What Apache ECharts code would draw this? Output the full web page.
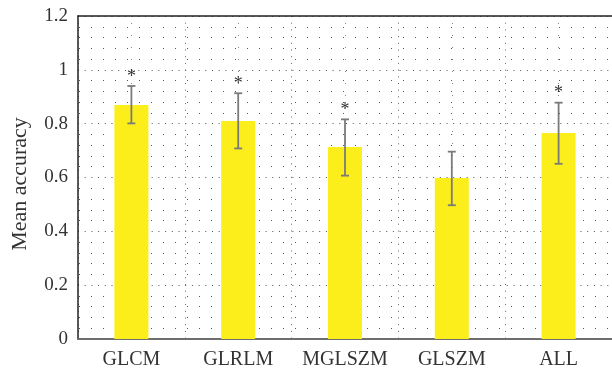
<!DOCTYPE html>
<html>
<head>
<meta charset="utf-8">
<script src="https://cdn.jsdelivr.net/npm/echarts@6/dist/echarts.min.js"></script>
<style>
html,body{margin:0;padding:0;background:#fff;}
#chart{width:612px;height:372px;}
</style>
</head>
<body>
<div id="chart"></div>
<script>
const categories = ['GLCM', 'GLRLM', 'MGLSZM', 'GLSZM', 'ALL'];
const meanAccuracy = [0.869, 0.810, 0.713, 0.598, 0.765];
const errLow = [0.801, 0.708, 0.607, 0.497, 0.651];
const errHigh = [0.940, 0.913, 0.816, 0.696, 0.878];
const significant = [true, true, true, false, true];
const yTicks = [0, 0.2, 0.4, 0.6, 0.8, 1, 1.2];

const fontFam = '"Liberation Serif", "DejaVu Serif", serif';
const chart = echarts.init(document.getElementById('chart'));

const errData = categories.map((c, i) => [i, errLow[i], errHigh[i], significant[i] ? 1 : 0]);

chart.setOption({
  animation: false,
  grid: { left: 78, top: 16, width: 540, bottom: 33, containLabel: false },
  xAxis: [
    {
      type: 'category',
      data: categories,
      position: 'bottom',
      axisLine: { show: true, lineStyle: { color: '#6e6e6e', width: 2 } },
      axisTick: { show: false },
      axisLabel: { color: '#333', fontSize: 20, fontFamily: fontFam, margin: 11, interval: 0, hideOverlap: false },
      splitLine: { show: false }
    },
    {
      type: 'value',
      min: 0, max: 10, interval: 2,
      position: 'top',
      axisLine: { show: true, onZero: false, lineStyle: { color: '#222', width: 1.5 } },
      axisTick: { show: false },
      axisLabel: { show: false },
      splitLine: { show: true, lineStyle: { color: '#666', width: 1, type: [1, 5.7] } },
      minorTick: { show: false, splitNumber: 2 },
      minorSplitLine: { show: true, lineStyle: { color: '#888', width: 1, type: [1, 11], dashOffset: 5 } }
    }
  ],
  yAxis: {
    type: 'value',
    min: 0, max: 1.2, interval: 0.2,
    name: 'Mean accuracy',
    nameLocation: 'middle',
    nameGap: 47,
    nameTextStyle: { color: '#333', fontSize: 22, fontFamily: fontFam, padding: [0, 13, 0, 0] },
    axisLine: { show: true, lineStyle: { color: '#222', width: 1.5 } },
    axisTick: { show: false },
    axisLabel: {
      color: '#333', fontSize: 19, fontFamily: fontFam, margin: 10,
      formatter: v => yTicks.includes(Math.round(v * 10) / 10) ? String(Math.round(v * 10) / 10) : ''
    },
    splitLine: { show: true, lineStyle: { color: '#555', width: 1, type: [1, 5.7] } },
    minorTick: { show: false, splitNumber: 5 },
    minorSplitLine: { show: true, lineStyle: { color: '#555', width: 1, type: [1, 11], dashOffset: 11 } }
  },
  series: [
    {
      type: 'bar',
      data: meanAccuracy,
      barWidth: 34,
      itemStyle: { color: '#fcee1b' },
      z: 3
    },
    {
      type: 'custom',
      data: errData,
      z: 5,
      renderItem: function (params, api) {
        const x = api.value(0);
        const lo = api.coord([x, api.value(1)]);
        const hi = api.coord([x, api.value(2)]);
        const cap = 4;
        const style = { stroke: '#7a7a7a', lineWidth: 1.8 };
        const children = [
          { type: 'line', shape: { x1: hi[0], y1: hi[1], x2: lo[0], y2: lo[1] }, style },
          { type: 'line', shape: { x1: hi[0] - cap, y1: hi[1], x2: hi[0] + cap, y2: hi[1] }, style },
          { type: 'line', shape: { x1: lo[0] - cap, y1: lo[1], x2: lo[0] + cap, y2: lo[1] }, style }
        ];
        if (api.value(3)) {
          children.push({
            type: 'text',
            style: {
              text: '*', x: hi[0], y: hi[1],
              fill: '#333', font: '18px ' + fontFam,
              textAlign: 'center', textVerticalAlign: 'bottom'
            }
          });
        }
        return { type: 'group', children };
      }
    }
  ]
});
</script>
</body>
</html>
